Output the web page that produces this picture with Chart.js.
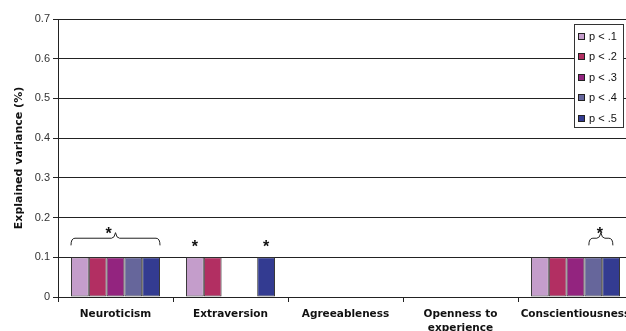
<!DOCTYPE html>
<html>
<head>
<meta charset="utf-8">
<script src="https://cdn.jsdelivr.net/npm/chart.js@4/dist/chart.umd.min.js"></script>
<style>
  html, body { margin: 0; padding: 0; overflow: hidden; background: #fff; }
  #wrap { position: relative; width: 633px; height: 331px; }
</style>
</head>
<body>
<div id="wrap"><canvas id="chart"></canvas></div>
<script>
// Big Five traits on the category axis
const categories = ['Neuroticism', 'Extraversion', 'Agreeableness', ['Openness to', 'experience'], 'Conscientiousness'];

// Explained variance per p-threshold
const seriesLabels = ['p < .1', 'p < .2', 'p < .3', 'p < .4', 'p < .5'];
const pLt1 = [0.1, 0.1, 0, 0, 0.1];
const pLt2 = [0.1, 0.1, 0, 0, 0.1];
const pLt3 = [0.1, 0, 0, 0, 0.1];
const pLt4 = [0.1, 0, 0, 0, 0.1];
const pLt5 = [0.1, 0.1, 0, 0, 0.1];
const seriesColors = ['#C49DCB', '#B22F62', '#93247F', '#66669B', '#333B91'];

const yTicks = [0, 0.1, 0.2, 0.3, 0.4, 0.5, 0.6, 0.7];

// Significance markers: category index, first and last bar covered, brace or single star
const significance = [
  { cat: 0, from: 0, to: 4, brace: true },
  { cat: 1, from: 0, to: 0, brace: false },
  { cat: 1, from: 4, to: 4, brace: false },
  { cat: 4, from: 3, to: 4, brace: true }
];

const seriesData = [pLt1, pLt2, pLt3, pLt4, pLt5];

const INK = '#222';

// Stars and curly braces above the bars, placed through the chart scales
const significancePlugin = {
  id: 'significance',
  afterDatasetsDraw(chart) {
    const ctx = chart.ctx;
    const y = chart.scales.y;
    ctx.save();
    ctx.strokeStyle = INK;
    ctx.fillStyle = '#111';
    ctx.lineWidth = 1;
    ctx.font = 'bold 16px "Liberation Sans", Arial, sans-serif';
    const m = ctx.measureText('*');
    const star = (cx, cy) => {
      ctx.textAlign = 'center';
      ctx.textBaseline = 'alphabetic';
      ctx.fillText('*', cx, cy + (m.actualBoundingBoxAscent - m.actualBoundingBoxDescent) / 2);
    };
    significance.forEach(s => {
      const a = chart.getDatasetMeta(s.from).data[s.cat];
      const b = chart.getDatasetMeta(s.to).data[s.cat];
      if (s.brace) {
        let x1, x2;
        if (s.to - s.from >= 4) {
          x1 = a.x - a.width / 2; x2 = b.x + b.width / 2;
        } else {
          x1 = a.x - a.width * 0.25; x2 = b.x + b.width * 0.1;
        }
        const yEnd = y.getPixelForValue(0.13);
        const yLine = y.getPixelForValue(0.148);
        const yPeak = y.getPixelForValue(0.162);
        const xm = (x1 + x2) / 2;
        const r = 4;
        ctx.beginPath();
        ctx.moveTo(x1, yEnd);
        ctx.quadraticCurveTo(x1, yLine, x1 + r, yLine);
        ctx.lineTo(xm - r, yLine);
        ctx.quadraticCurveTo(xm - 1, yLine, xm, yPeak);
        ctx.quadraticCurveTo(xm + 1, yLine, xm + r, yLine);
        ctx.lineTo(x2 - r, yLine);
        ctx.quadraticCurveTo(x2, yLine, x2, yEnd);
        ctx.stroke();
        const shift = (s.to - s.from >= 4) ? -7 : -1;
        star(xm + shift, y.getPixelForValue(0.168));
      } else {
        star((a.x + b.x) / 2, y.getPixelForValue(0.134));
      }
    });
    ctx.restore();
  }
};

// Boxed legend inside the plot area, top right
const boxLegendPlugin = {
  id: 'boxLegend',
  afterDraw(chart) {
    const ctx = chart.ctx;
    const area = chart.chartArea;
    const w = 49, h = 103;
    const left = area.right - 59;
    const top = area.top + 4.5;
    ctx.save();
    ctx.fillStyle = '#fff';
    ctx.fillRect(left, top, w, h);
    ctx.strokeStyle = '#333';
    ctx.lineWidth = 1;
    ctx.strokeRect(Math.round(left) + 0.5, Math.round(top) + 0.5, w, h);
    ctx.font = '11px "Liberation Sans", Arial, sans-serif';
    ctx.textBaseline = 'middle';
    ctx.textAlign = 'left';
    chart.data.datasets.forEach((ds, i) => {
      const cy = Math.round(top + 12.5 + i * 20.4);
      ctx.fillStyle = ds.backgroundColor;
      ctx.fillRect(Math.round(left) + 4, cy - 3, 7, 7);
      ctx.strokeStyle = '#222';
      ctx.strokeRect(Math.round(left) + 4.5, cy - 2.5, 6, 6);
      ctx.fillStyle = '#111';
      ctx.fillText(ds.label, Math.round(left) + 15, cy + 1);
    });
    ctx.restore();
  }
};

new Chart(document.getElementById('chart'), {
  type: 'bar',
  data: {
    labels: categories,
    datasets: seriesData.map((values, i) => ({
      label: seriesLabels[i],
      data: values,
      backgroundColor: seriesColors[i],
      borderColor: '#3a3a3a',
      borderWidth: 1,
      borderSkipped: false,
      categoryPercentage: 0.774,
      barPercentage: 1
    }))
  },
  options: {
    responsive: true,
    maintainAspectRatio: false,
    animation: false,
    devicePixelRatio: 1,
    layout: { padding: { top: 19, right: 0, bottom: 0, left: 0 } },
    plugins: {
      legend: { display: false },
      tooltip: { enabled: false }
    },
    scales: {
      x: {
        grid: { offset: true, drawOnChartArea: false, drawTicks: true, tickLength: 5, color: INK },
        border: { display: true, color: INK, width: 1 },
        ticks: {
          font: { family: '"DejaVu Sans", Verdana, sans-serif', size: 10.5, weight: 'bold', lineHeight: 1.35 },
          color: '#111',
          padding: 5,
          maxRotation: 0,
          autoSkip: false
        },
        afterFit(scale) {
          scale.height = 34;
          scale.paddingLeft = 0;
          scale.paddingRight = 0;
        }
      },
      y: {
        min: 0,
        max: 0.7,
        afterBuildTicks(scale) { scale.ticks = yTicks.map(v => ({ value: v })); },
        grid: { color: INK, lineWidth: 1, tickLength: 5, drawTicks: true },
        border: { display: true, color: INK, width: 1 },
        ticks: {
          font: { family: '"Liberation Sans", Arial, sans-serif', size: 11 },
          color: '#333',
          padding: 3,
          callback: v => String(Math.round(v * 10) / 10)
        },
        title: {
          display: true,
          text: 'Explained variance (%)',
          font: { family: '"DejaVu Sans", Verdana, sans-serif', size: 11, weight: 'bold' },
          color: '#111',
          padding: { top: 13, bottom: 0 }
        },
        afterFit(scale) { scale.width = 58; }
      }
    }
  },
  plugins: [significancePlugin, boxLegendPlugin]
});
</script>
</body>
</html>
